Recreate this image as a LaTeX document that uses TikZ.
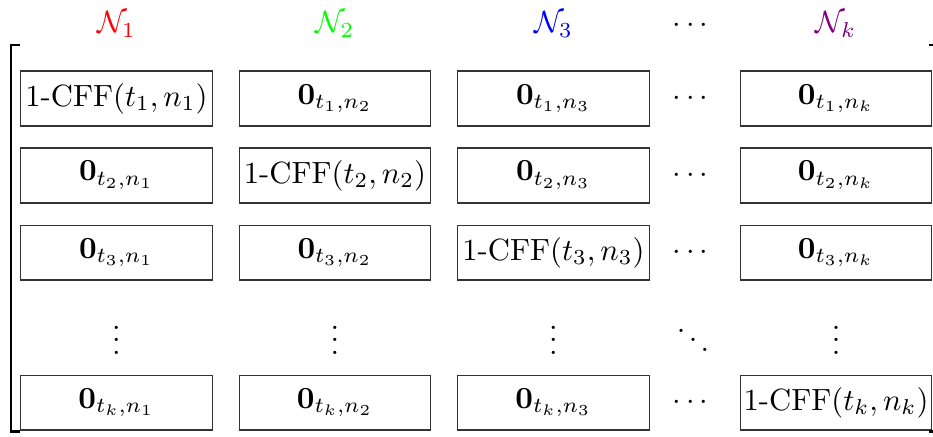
\documentclass[tikz,border=0pt]{standalone}
\usepackage{amsmath}
\usetikzlibrary{calc}
\tikzset{every picture/.style={>=stealth}}
\tikzset{block/.style={draw=black!80, line width=0.35pt, minimum width=2.19cm,
	minimum height=0.63cm, inner sep=1pt}}
\tikzset{colhead/.style={anchor=base, inner sep=0pt}}
\tikzset{bracket/.style={line width=0.8pt}}

\begin{document}
\begin{tikzpicture}
	\useasboundingbox (0,0) rectangle (10.692,4.997);
	% column labels
	\node[colhead, red] (N1) at (1.335,4.619) {$\mathcal{N}_1$};
	\node[colhead, green] (N2) at (3.839,4.619) {$\mathcal{N}_2$};
	\node[colhead, blue] (N3) at (6.343,4.619) {$\mathcal{N}_3$};
	\node[colhead] (Nd) at (7.942,4.619) {$\cdots$};
	\node[colhead, violet] (Nk) at (9.581,4.619) {$\mathcal{N}_k$};
	% row 1
	\node[block] (A11) at (1.335,3.868) {1-CFF$(t_1,n_1)$};
	\node[block] (A12) at (3.839,3.868) {$\mathbf{0}_{t_1,n_2}$};
	\node[block] (A13) at (6.343,3.868) {$\mathbf{0}_{t_1,n_3}$};
	\node (A1d) at (7.942,3.868) {$\cdots$};
	\node[block] (A1k) at (9.581,3.868) {$\mathbf{0}_{t_1,n_k}$};
	% row 2
	\node[block] (A21) at (1.335,2.986) {$\mathbf{0}_{t_2,n_1}$};
	\node[block] (A22) at (3.839,2.986) {1-CFF$(t_2,n_2)$};
	\node[block] (A23) at (6.343,2.986) {$\mathbf{0}_{t_2,n_3}$};
	\node (A2d) at (7.942,2.986) {$\cdots$};
	\node[block] (A2k) at (9.581,2.986) {$\mathbf{0}_{t_2,n_k}$};
	% row 3
	\node[block] (A31) at (1.335,2.103) {$\mathbf{0}_{t_3,n_1}$};
	\node[block] (A32) at (3.839,2.103) {$\mathbf{0}_{t_3,n_2}$};
	\node[block] (A33) at (6.343,2.103) {1-CFF$(t_3,n_3)$};
	\node (A3d) at (7.942,2.103) {$\cdots$};
	\node[block] (A3k) at (9.581,2.103) {$\mathbf{0}_{t_3,n_k}$};
	% dots row
	\node (V1) at (1.335,1.204) {$\vdots$};
	\node (V2) at (3.839,1.204) {$\vdots$};
	\node (V3) at (6.343,1.204) {$\vdots$};
	\node (Vd) at (7.942,1.204) {$\ddots$};
	\node (Vk) at (9.581,1.204) {$\vdots$};
	% row k
	\node[block] (Ak1) at (1.335,0.384) {$\mathbf{0}_{t_k,n_1}$};
	\node[block] (Ak2) at (3.839,0.384) {$\mathbf{0}_{t_k,n_2}$};
	\node[block] (Ak3) at (6.343,0.384) {$\mathbf{0}_{t_k,n_3}$};
	\node (Akd) at (7.942,0.384) {$\cdots$};
	\node[block] (Akk) at (9.581,0.384) {1-CFF$(t_k,n_k)$};
	% brackets
	\draw[bracket] (0.229,4.481) -- (0.126,4.481) -- (0.126,0.052)
		-- (0.229,0.052);
	\draw[bracket] (10.650,4.481) -- (10.76,4.481) -- (10.76,0.052)
		-- (10.650,0.052);
\end{tikzpicture}
\end{document}
